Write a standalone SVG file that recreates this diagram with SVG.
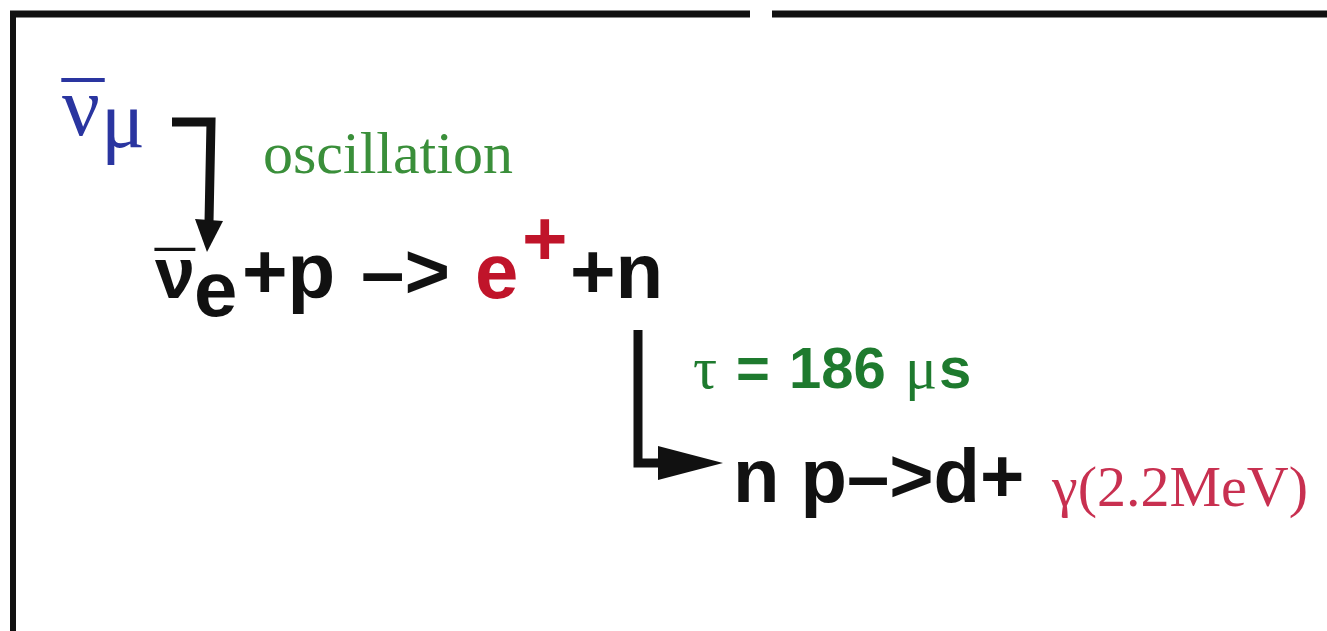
<svg xmlns="http://www.w3.org/2000/svg" width="1327" height="631" viewBox="0 0 1327 631">
<style>
.serif{font-family:"Liberation Serif","Times New Roman",serif}
.sans{font-family:"Liberation Sans",Arial,sans-serif;font-weight:bold}
.conn{stroke:#111;stroke-width:9;fill:none;stroke-linejoin:miter}
.frame{stroke:#111;fill:none}
</style>
<defs>
<marker id="ah" markerUnits="userSpaceOnUse" markerWidth="70" markerHeight="40" refX="0" refY="17" orient="auto" viewBox="0 0 70 40">
<polygon points="0,0 65,17 0,34" fill="#111"/>
</marker>
</defs>
<rect width="1327" height="631" fill="#fff"/>
<g id="frame">
<line class="frame" x1="10" y1="14" x2="750" y2="14" stroke-width="7"/>
<line class="frame" x1="772" y1="14" x2="1327" y2="14" stroke-width="7"/>
<line class="frame" x1="13" y1="11" x2="13" y2="631" stroke-width="6"/>
</g>
<g id="connectors">
<polyline class="conn" points="172,122 211,122 209,222"/>
<polygon points="195,219 223,221 207,252" fill="#111"/>
<polyline class="conn" points="638,330 638,463 658,463" marker-end="url(#ah)"/>
</g>
<g id="numu">
<text class="serif" x="62" y="135" font-size="84" fill="#2a35a0">ν</text>
<text class="serif" x="83" y="142" font-size="84" fill="#2a35a0" text-anchor="middle">¯</text>
<text class="serif" x="101" y="147" font-size="82" fill="#2a35a0">μ</text>
</g>
<g id="label-oscillation">
<text class="serif" x="263" y="173" font-size="60" fill="#3a8f3a">oscillation</text>
</g>
<g id="reaction1">
<text class="sans" x="155" y="298" font-size="72" fill="#111">ν</text>
<text class="sans" x="175" y="302" font-size="72" fill="#111" text-anchor="middle">¯</text>
<text class="sans" x="194" y="316" font-size="78" fill="#111">e</text>
<text class="sans" x="242" y="298" font-size="78" fill="#111">+p</text>
<text class="sans" x="361" y="298" font-size="78" fill="#111">–&gt;</text>
<text class="sans" x="475" y="298" font-size="78" fill="#c0142a">e</text>
<text class="sans" x="522" y="265" font-size="78" fill="#c0142a">+</text>
<text class="sans" x="570" y="298" font-size="78" fill="#111">+n</text>
</g>
<g id="label-tau">
<text class="serif" x="693" y="388" font-size="60" fill="#1e7a2e">τ</text>
<text class="sans" x="736" y="388" font-size="58" fill="#1e7a2e">=</text>
<text class="sans" x="789" y="388" font-size="58" fill="#1e7a2e">186</text>
<text class="serif" x="905" y="388" font-size="60" fill="#1e7a2e">μ</text>
<text class="sans" x="939" y="388" font-size="58" fill="#1e7a2e">s</text>
</g>
<g id="reaction2">
<text class="sans" x="733" y="502" font-size="76" fill="#111">n p–&gt;d+</text>
<text class="serif" x="1052" y="506" font-size="58" fill="#c83050">γ(2.2MeV)</text>
</g>
</svg>
